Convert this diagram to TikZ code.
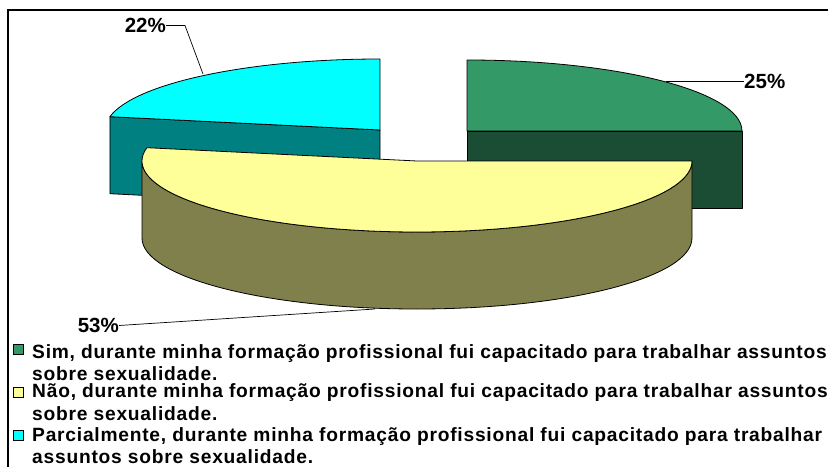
\documentclass[tikz,border=0pt]{standalone}
\usepackage{fontspec}
\setmainfont{Liberation Sans}
\newfontfamily\legfont[LetterSpace=4]{Liberation Sans}
\definecolor{gtop}{RGB}{51,153,102}
\definecolor{gside}{RGB}{26,77,51}
\definecolor{ctop}{RGB}{0,255,255}
\definecolor{cside}{RGB}{0,128,128}
\definecolor{ytop}{RGB}{255,255,153}
\definecolor{yside}{RGB}{128,128,77}
\begin{document}
\begin{tikzpicture}[x=1pt,y=1pt,
  face/.style={draw=black, line width=0.8pt, line join=round},
  pct/.style={font=\fontsize{20.5}{24}\selectfont\bfseries, inner sep=0pt},
  leg/.style={font=\legfont\fontsize{19.2}{22}\selectfont\bfseries, inner sep=0pt, anchor=base west, text height=13pt, text depth=2pt},
  lead/.style={draw=black, line width=0.7pt},
  keybox/.style={draw=black, line width=0.8pt, minimum size=10pt, inner sep=0pt}]
\useasboundingbox (0,0) rectangle (828,467);
\fill[white] (0,0) rectangle (828,467);
% frame
\draw[line width=1.6pt] (8,0) -- (8,457) -- (828,457);
% cyan slice (22%)
\coordinate (cc) at (380,337);
\path[face, fill=cside] (cc) -- (109.9,350.3) -- (109.9,273.3) -- (380,260) -- cycle;
\path[face, fill=ctop] (cc) -- (380,408) arc[start angle=90, end angle=169.2, x radius=275, y radius=71] -- cycle;
% green slice (25%)
\coordinate (gc) at (467,336);
\path[face, fill=gside] (gc) rectangle (742,259);
\path[face, fill=gtop] (gc) -- (742,336) arc[start angle=0, end angle=90, x radius=275, y radius=71] -- cycle;
% yellow slice (53%)
\coordinate (yc) at (417,306);
\path[face, fill=yside] (142,306) -- (142,229) arc[start angle=180, end angle=360, x radius=275, y radius=71] -- (692,306) arc[start angle=0, end angle=-180, x radius=275, y radius=71] -- cycle;
\path[face, fill=ytop] (yc) -- (146.9,319.3) arc[start angle=169.2, end angle=360, x radius=275, y radius=71] -- cycle;
% data labels
\node[pct, anchor=east] (l22) at (166,441.5) {22\%};
\coordinate (b22) at (185,441.5);
\coordinate (a22) at (203,393);
\draw[lead] (l22.east) -- (b22) -- (a22);
\node[pct, anchor=west] (l25) at (744,385.5) {25\%};
\coordinate (a25) at (666,385.5);
\draw[lead] (a25) -- (l25.west);
\node[pct, anchor=east] (l53) at (119,141.5) {53\%};
\coordinate (a53) at (375,158);
\draw[lead] (l53.east) -- (a53);
% legend
\node[keybox, fill=gtop] (k1) at (18,118) {};
\node[keybox, fill=ytop] (k2) at (18,75) {};
\node[keybox, fill=ctop] (k3) at (18,32) {};
\node[leg] (t1a) at (32,109) {Sim, durante minha formação profissional fui capacitado para trabalhar assuntos};
\node[leg] (t1b) at (32,87) {sobre sexualidade.};
\node[leg] (t2a) at (32,69.5) {Não, durante minha formação profissional fui capacitado para trabalhar assuntos};
\node[leg] (t2b) at (32,47) {sobre sexualidade.};
\node[leg] (t3a) at (32,26) {Parcialmente, durante minha formação profissional fui capacitado para trabalhar};
\node[leg] (t3b) at (32,4) {assuntos sobre sexualidade.};
\end{tikzpicture}
\end{document}
